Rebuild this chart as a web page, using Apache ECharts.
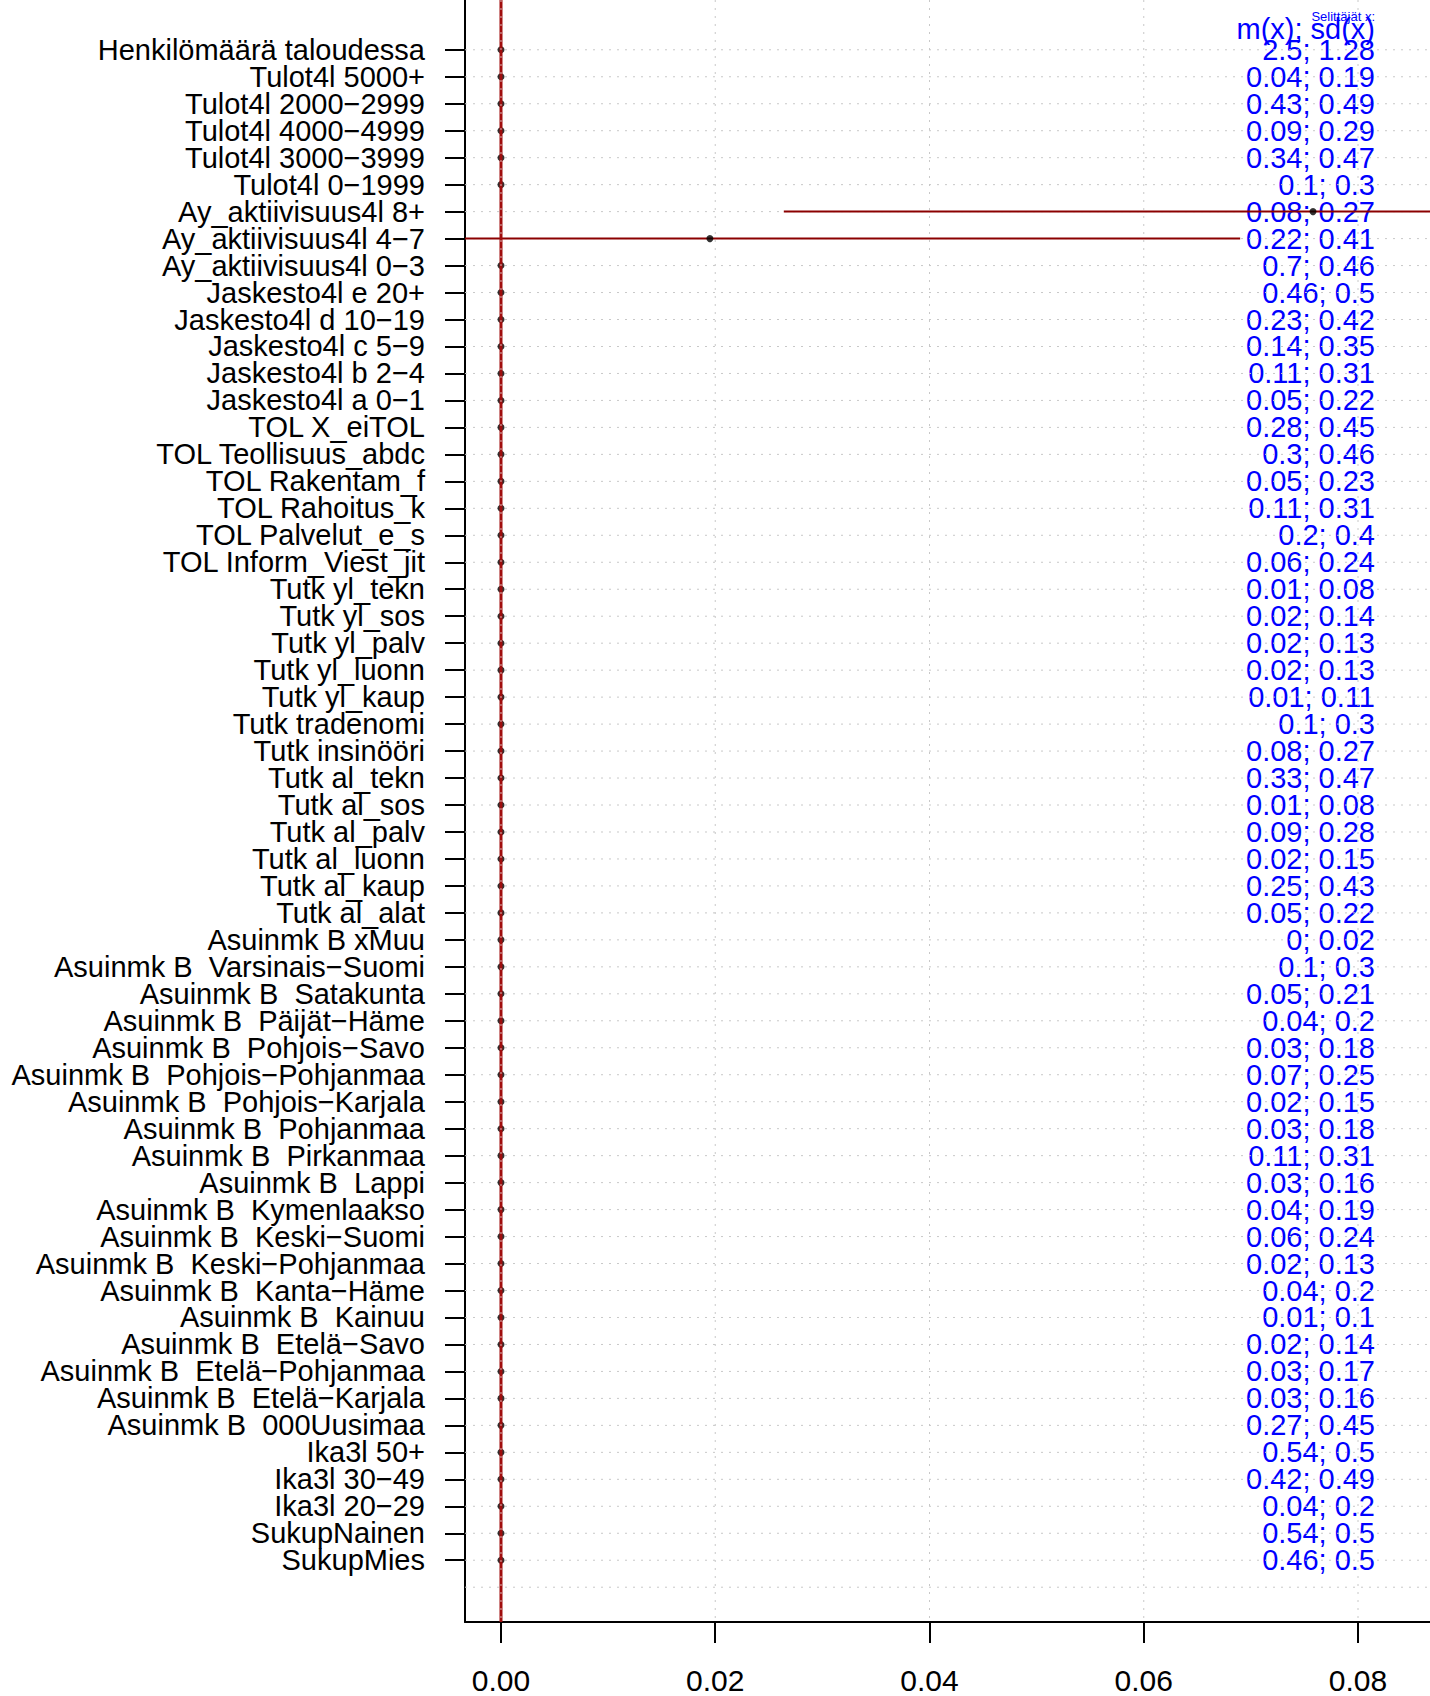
<!DOCTYPE html>
<html>
<head>
<meta charset="utf-8">
<script src="https://cdn.jsdelivr.net/npm/echarts@6/dist/echarts.min.js"></script>
<style>
  html, body { margin: 0; padding: 0; background: #fff; }
  #chart { width: 1430px; height: 1696px; }
</style>
</head>
<body>
<div id="chart"></div>
<script>
// selittäjät, ylhäältä alas
const labels = [
  "Henkilömäärä taloudessa",
  "Tulot4l 5000+",
  "Tulot4l 2000−2999",
  "Tulot4l 4000−4999",
  "Tulot4l 3000−3999",
  "Tulot4l 0−1999",
  "Ay_aktiivisuus4l 8+",
  "Ay_aktiivisuus4l 4−7",
  "Ay_aktiivisuus4l 0−3",
  "Jaskesto4l e 20+",
  "Jaskesto4l d 10−19",
  "Jaskesto4l c 5−9",
  "Jaskesto4l b 2−4",
  "Jaskesto4l a 0−1",
  "TOL X_eiTOL",
  "TOL Teollisuus_abdc",
  "TOL Rakentam_f",
  "TOL Rahoitus_k",
  "TOL Palvelut_e_s",
  "TOL Inform_Viest_jit",
  "Tutk yl_tekn",
  "Tutk yl_sos",
  "Tutk yl_palv",
  "Tutk yl_luonn",
  "Tutk yl_kaup",
  "Tutk tradenomi",
  "Tutk insinööri",
  "Tutk al_tekn",
  "Tutk al_sos",
  "Tutk al_palv",
  "Tutk al_luonn",
  "Tutk al_kaup",
  "Tutk al_alat",
  "Asuinmk B xMuu",
  "Asuinmk B  Varsinais−Suomi",
  "Asuinmk B  Satakunta",
  "Asuinmk B  Päijät−Häme",
  "Asuinmk B  Pohjois−Savo",
  "Asuinmk B  Pohjois−Pohjanmaa",
  "Asuinmk B  Pohjois−Karjala",
  "Asuinmk B  Pohjanmaa",
  "Asuinmk B  Pirkanmaa",
  "Asuinmk B  Lappi",
  "Asuinmk B  Kymenlaakso",
  "Asuinmk B  Keski−Suomi",
  "Asuinmk B  Keski−Pohjanmaa",
  "Asuinmk B  Kanta−Häme",
  "Asuinmk B  Kainuu",
  "Asuinmk B  Etelä−Savo",
  "Asuinmk B  Etelä−Pohjanmaa",
  "Asuinmk B  Etelä−Karjala",
  "Asuinmk B  000Uusimaa",
  "Ika3l 50+",
  "Ika3l 30−49",
  "Ika3l 20−29",
  "SukupNainen",
  "SukupMies"
];

// estimaatti ja luottamusväli (vain kaksi riviä poikkeaa nollasta)
const estimate = [
  0, 0, 0, 0, 0, 0, 0.0758, 0.0195, 0, 0,
  0, 0, 0, 0, 0, 0, 0, 0, 0, 0,
  0, 0, 0, 0, 0, 0, 0, 0, 0, 0,
  0, 0, 0, 0, 0, 0, 0, 0, 0, 0,
  0, 0, 0, 0, 0, 0, 0, 0, 0, 0,
  0, 0, 0, 0, 0, 0, 0
];
const lower = [
  0, 0, 0, 0, 0, 0, 0.0264, -0.0300, 0, 0,
  0, 0, 0, 0, 0, 0, 0, 0, 0, 0,
  0, 0, 0, 0, 0, 0, 0, 0, 0, 0,
  0, 0, 0, 0, 0, 0, 0, 0, 0, 0,
  0, 0, 0, 0, 0, 0, 0, 0, 0, 0,
  0, 0, 0, 0, 0, 0, 0
];
const upper = [
  0, 0, 0, 0, 0, 0, 0.1252, 0.0690, 0, 0,
  0, 0, 0, 0, 0, 0, 0, 0, 0, 0,
  0, 0, 0, 0, 0, 0, 0, 0, 0, 0,
  0, 0, 0, 0, 0, 0, 0, 0, 0, 0,
  0, 0, 0, 0, 0, 0, 0, 0, 0, 0,
  0, 0, 0, 0, 0, 0, 0
];

// m(x) ja sd(x)
const meanX = [
  "2.5", "0.04", "0.43", "0.09", "0.34", "0.1", "0.08", "0.22", "0.7", "0.46",
  "0.23", "0.14", "0.11", "0.05", "0.28", "0.3", "0.05", "0.11", "0.2", "0.06",
  "0.01", "0.02", "0.02", "0.02", "0.01", "0.1", "0.08", "0.33", "0.01", "0.09",
  "0.02", "0.25", "0.05", "0", "0.1", "0.05", "0.04", "0.03", "0.07", "0.02",
  "0.03", "0.11", "0.03", "0.04", "0.06", "0.02", "0.04", "0.01", "0.02", "0.03",
  "0.03", "0.27", "0.54", "0.42", "0.04", "0.54", "0.46"
];
const sdX = [
  "1.28", "0.19", "0.49", "0.29", "0.47", "0.3", "0.27", "0.41", "0.46", "0.5",
  "0.42", "0.35", "0.31", "0.22", "0.45", "0.46", "0.23", "0.31", "0.4", "0.24",
  "0.08", "0.14", "0.13", "0.13", "0.11", "0.3", "0.27", "0.47", "0.08", "0.28",
  "0.15", "0.43", "0.22", "0.02", "0.3", "0.21", "0.2", "0.18", "0.25", "0.15",
  "0.18", "0.31", "0.16", "0.19", "0.24", "0.13", "0.2", "0.1", "0.14", "0.17",
  "0.16", "0.45", "0.5", "0.49", "0.2", "0.5", "0.5"
];

const xTicks = [0, 0.02, 0.04, 0.06, 0.08];
const rows = labels.map((_, i) => i + 1);
const gridRows = rows.concat([rows.length + 1]);
// tyhjät reunapaikat, jotta ECharts ei piilota ensimmäistä/viimeistä nimeä
const labelRows = [0].concat(rows, [rows.length + 1]);

const X_MIN = -0.00336, X_MAX = 0.08672;
const Y_MIN = -0.846, Y_MAX = 59.29;
const FONT = "'Liberation Sans', Arial, Helvetica, sans-serif";
const GRID_COLOR = "#c8c8c8";

const chart = echarts.init(document.getElementById("chart"), null, { renderer: "svg" });

function hLine(params, api) {
  const cs = params.coordSys;
  const y = api.coord([0, api.value(1)])[1];
  return {
    type: "line",
    shape: { x1: cs.x, y1: y, x2: cs.x + cs.width, y2: y },
    style: { stroke: GRID_COLOR, lineWidth: 1, lineDash: [2, 6] }
  };
}

function vLine(params, api) {
  const cs = params.coordSys;
  const x = api.coord([api.value(0), 0])[0];
  return {
    type: "line",
    shape: { x1: x, y1: cs.y, x2: x, y2: cs.y + cs.height },
    style: { stroke: GRID_COLOR, lineWidth: 1, lineDash: [2, 6] }
  };
}

function errBar(params, api) {
  const p1 = api.coord([api.value(0), api.value(2)]);
  const p2 = api.coord([api.value(1), api.value(2)]);
  return {
    type: "line",
    shape: { x1: p1[0], y1: p1[1], x2: p2[0], y2: p2[1] },
    style: { stroke: "#8b0000", lineWidth: 2 }
  };
}

const option = {
  animation: false,
  backgroundColor: "#fff",
  grid: { left: 465, top: 0, right: 0, bottom: 74 },
  xAxis: {
    type: "value",
    min: X_MIN,
    max: X_MAX,
    axisLine: { onZero: false, lineStyle: { color: "#000", width: 2 } },
    axisTick: { customValues: xTicks, length: 21, lineStyle: { color: "#000", width: 2 } },
    axisLabel: {
      customValues: xTicks,
      formatter: v => v.toFixed(2),
      margin: 43,
      color: "#000",
      fontSize: 30,
      fontFamily: FONT
    },
    splitLine: { show: false }
  },
  yAxis: [
    {
      type: "value",
      inverse: true,
      min: Y_MIN,
      max: Y_MAX,
      axisLine: { onZero: false, lineStyle: { color: "#000", width: 2 } },
      axisTick: { customValues: rows, length: 20, lineStyle: { color: "#000", width: 2 } },
      axisLabel: {
        customValues: labelRows,
        formatter: v => labels[v - 1] || "",
        margin: 40,
        color: "#000",
        fontSize: 29,
        fontFamily: FONT
      },
      splitLine: { show: false }
    },
    {
      type: "value",
      inverse: true,
      position: "right",
      min: Y_MIN,
      max: Y_MAX,
      axisLine: { show: false, onZero: false },
      axisTick: { show: false },
      axisLabel: {
        customValues: labelRows,
        inside: true,
        formatter: v => (meanX[v - 1] === undefined ? "" : meanX[v - 1] + "; " + sdX[v - 1]),
        margin: 55,
        color: "#0000ff",
        fontSize: 29,
        fontFamily: FONT
      },
      splitLine: { show: false }
    }
  ],
  graphic: [
    {
      type: "text",
      x: 1375,
      y: 16,
      style: { text: "Selittäjät x:", fill: "#0000ff", font: "13px " + FONT, textAlign: "right", textVerticalAlign: "middle" }
    },
    {
      type: "text",
      x: 1375,
      y: 29,
      style: { text: "m(x); sd(x)", fill: "#0000ff", font: "29px " + FONT, textAlign: "right", textVerticalAlign: "middle" }
    }
  ],
  series: [
    {
      type: "custom",
      name: "hgrid",
      silent: true,
      renderItem: hLine,
      data: gridRows.map(r => [0, r]),
      z: 1
    },
    {
      type: "custom",
      name: "vgrid",
      silent: true,
      renderItem: vLine,
      data: xTicks.slice(1).map(v => [v, 0]),
      z: 1
    },
    {
      type: "custom",
      name: "ci",
      silent: true,
      clip: true,
      renderItem: errBar,
      encode: { x: [0, 1], y: 2 },
      data: rows.map((r, i) => [lower[i], upper[i], r]),
      z: 2
    },
    {
      type: "scatter",
      name: "estimate",
      symbolSize: 7,
      itemStyle: { color: "#000" },
      data: rows.map((r, i) => [estimate[i], r]),
      z: 3
    },
    {
      type: "line",
      name: "zero",
      silent: true,
      symbol: "none",
      lineStyle: { color: "#a00d0d", width: 3 },
      data: [[0, Y_MIN], [0, Y_MAX]],
      z: 4
    },
    {
      type: "line",
      name: "zerogrid",
      silent: true,
      symbol: "none",
      lineStyle: { color: "rgba(225,225,225,0.8)", width: 1, type: [2, 6] },
      data: [[0, Y_MIN], [0, Y_MAX]],
      z: 5
    }
  ]
};

chart.setOption(option);
</script>
</body>
</html>
